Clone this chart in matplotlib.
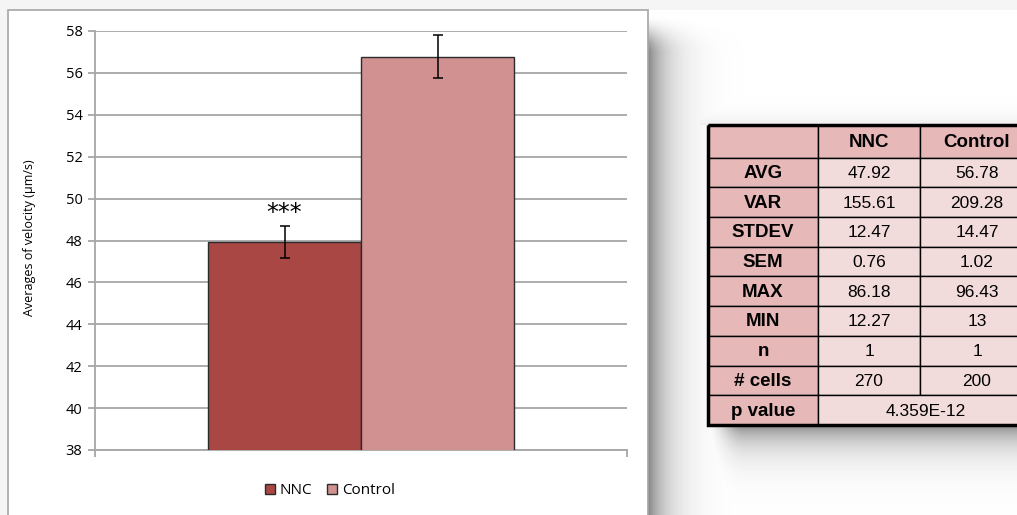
import numpy as np
import matplotlib
matplotlib.use("Agg")
import matplotlib.pyplot as plt
from matplotlib.patches import Rectangle, Patch

# ---- data -------------------------------------------------------------
groups = ["NNC", "Control"]
mean_velocity = [47.92, 56.78]
sem_velocity = [0.76, 1.02]
bar_colors = ["#A94745", "#D19190"]
y_ticks = [38, 40, 42, 44, 46, 48, 50, 52, 54, 56, 58]
significance = "***"

stat_names = ["AVG", "VAR", "STDEV", "SEM", "MAX", "MIN", "n", "# cells"]
nnc_stats = ["47.92", "155.61", "12.47", "0.76", "86.18", "12.27", "1", "270"]
control_stats = ["56.78", "209.28", "14.47", "1.02", "96.43", "13", "1", "200"]
p_label = "p value"
p_value_text = "4.359E-12"

chart_font = ["Open Sans", "DejaVu Sans"]
table_font = ["Liberation Sans", "DejaVu Sans"]
plt.rcParams["font.family"] = chart_font

W, H = 1017, 515
fig = plt.figure(figsize=(W / 100, H / 100), dpi=100)

# ---- page background with soft drop shadows (pixel coordinates) -------
bg = fig.add_axes([0, 0, 1, 1])
bg.set_xlim(0, W)
bg.set_ylim(H, 0)
bg.axis("off")

yy, xx = np.mgrid[0:H, 0:W] + 0.5


def smooth(t):
    t = np.clip(t, 0, 1)
    return t * t * (3 - 2 * t)


dx = xx - 648
panel_shadow = np.where(dx > 0, 0.48 * np.exp(-dx / 20), 0) * smooth((yy - 14) / 40)
dy = yy - 425
table_shadow = np.where(dy > 0, 0.47 * np.exp(-dy / 19), 0) * smooth((xx - 705) / 40)
dy_top = 125 - yy
table_top_shadow = np.where((dy_top > 0) & (xx > 700), 0.07 * np.exp(-dy_top / 10), 0)
page_tint = 0.04 * ((xx < 8) | (yy < 10))
shade = np.maximum.reduce([panel_shadow, table_shadow, table_top_shadow, page_tint])
bg.imshow(1 - shade, cmap="gray", vmin=0, vmax=1, extent=(0, W, H, 0),
          interpolation="bilinear", aspect="auto", zorder=0)

# chart panel
bg.add_patch(Rectangle((8, 10), 640, 520, facecolor="white",
                       edgecolor="#A6A6A6", lw=1.2, zorder=1))

# ---- bar chart ----------------------------------------------------------
ax = fig.add_axes([95 / W, (H - 450) / H, 532 / W, 419 / H])
ax.set_zorder(2)
w = 153 / 532
xpos = [-w / 2, w / 2]
ax.bar(xpos, mean_velocity, width=w, color=bar_colors, edgecolor="#2b2b2b",
       lw=1.0, zorder=3)
ax.errorbar(xpos, mean_velocity, yerr=sem_velocity, fmt="none", ecolor="black",
            elinewidth=1.1, capsize=3.6, capthick=1.1, zorder=4)
ax.text(xpos[0], mean_velocity[0] + sem_velocity[0] + 0.05, significance,
        ha="center", va="bottom", fontsize=17, family=["DejaVu Sans"], zorder=5)

ax.set_xlim(-0.5, 0.5)
ax.set_ylim(y_ticks[0], y_ticks[-1])
ax.set_yticks(y_ticks)
ax.set_xticks([-0.5, 0.5])
ax.set_xticklabels([])
ax.yaxis.grid(True, color="#A6A6A6", lw=1.3)
ax.set_axisbelow(True)
for side in ("top", "right"):
    ax.spines[side].set_visible(False)
for side in ("left", "bottom"):
    ax.spines[side].set_color("#A6A6A6")
    ax.spines[side].set_linewidth(1.3)
ax.tick_params(axis="both", direction="out", length=5, width=1.3,
               color="#A6A6A6", labelsize=10.5, pad=4, labelcolor="black")

fig.text(30 / W, 1 - 238 / H, "Averages of velocity (\u00b5m/s)", rotation=90,
         ha="center", va="center", fontsize=9)

handles = [Patch(facecolor=c, edgecolor="#2b2b2b", lw=1.0, label=g)
           for g, c in zip(groups, bar_colors)]
fig.legend(handles=handles, loc="center", bbox_to_anchor=(330 / W, 1 - 491 / H),
           ncol=2, frameon=False, fontsize=11, handlelength=0.65,
           handleheight=0.65, handletextpad=0.3, columnspacing=1.0)

# ---- summary statistics table -------------------------------------------
head_color = "#E6B8B7"
cell_color = "#F2DCDB"
col_edges = [708, 818, 920, 1034]
row_h = (425 - 157.5) / 9
row_edges = [125, 157.5] + [157.5 + row_h * (i + 1) for i in range(9)]


def cell(x0, x1, y0, y1, color, text, bold):
    bg.add_patch(Rectangle((x0, y0), x1 - x0, y1 - y0, facecolor=color,
                           edgecolor="black", lw=1.0, zorder=3))
    if text:
        bg.text((x0 + x1) / 2, (y0 + y1) / 2 + 1, text, ha="center", va="center",
                fontsize=13.5 if bold else 12.5, family=table_font,
                fontweight="bold" if bold else "normal", zorder=4)


cell(col_edges[0], col_edges[1], row_edges[0], row_edges[1], head_color, "", True)
cell(col_edges[1], col_edges[2], row_edges[0], row_edges[1], head_color, groups[0], True)
cell(col_edges[2], col_edges[3], row_edges[0], row_edges[1], head_color, groups[1], True)
for i, name in enumerate(stat_names):
    y0, y1 = row_edges[i + 1], row_edges[i + 2]
    cell(col_edges[0], col_edges[1], y0, y1, head_color, name, True)
    cell(col_edges[1], col_edges[2], y0, y1, cell_color, nnc_stats[i], False)
    cell(col_edges[2], col_edges[3], y0, y1, cell_color, control_stats[i], False)
y0, y1 = row_edges[-2], row_edges[-1]
cell(col_edges[0], col_edges[1], y0, y1, head_color, p_label, True)
cell(col_edges[1], col_edges[3], y0, y1, cell_color, p_value_text, False)

bg.add_patch(Rectangle((col_edges[0], row_edges[0]), col_edges[3] - col_edges[0],
                       row_edges[-1] - row_edges[0], facecolor="none",
                       edgecolor="black", lw=2.5, zorder=5))

fig.savefig("out.png", dpi=100)
